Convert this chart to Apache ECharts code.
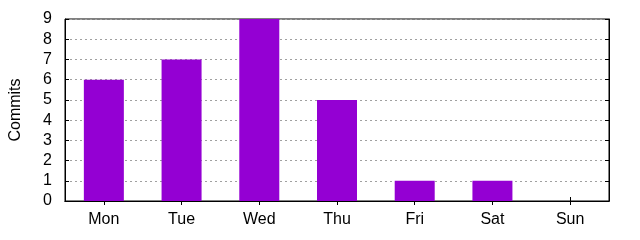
<!DOCTYPE html>
<html><head><meta charset="utf-8">
<script src="https://cdn.jsdelivr.net/npm/echarts@6/dist/echarts.min.js"></script>
<style>html,body{margin:0;padding:0;background:#fff}#c{width:640px;height:240px}</style>
</head><body><div id="c"></div>
<script>
const categories = ['Mon','Tue','Wed','Thu','Fri','Sat','Sun'];
const commits = [6, 7, 9, 5, 1, 1, 0];
const yTicks = [0,1,2,3,4,5,6,7,8,9];

const chart = echarts.init(document.getElementById('c'), null, {renderer:'canvas'});
const font = {fontFamily:'Liberation Sans, Arial, sans-serif', fontSize:16, color:'#000'};
chart.setOption({
  animation:false,
  grid:{left:64, right:31, top:19, bottom:39, show:true, borderColor:'#000', borderWidth:1, backgroundColor:'transparent'},
  xAxis:[{
    type:'category', data:categories, position:'bottom',
    axisLine:{show:true, lineStyle:{color:'#000', width:1}},
    axisTick:{show:true, inside:true, alignWithLabel:true, length:4, lineStyle:{color:'#000'}},
    axisLabel:Object.assign({margin:11}, font),
    splitLine:{show:false}
  },{
    type:'category', data:categories, position:'top',
    axisLine:{show:true, lineStyle:{color:'#000', width:1}},
    axisTick:{show:true, inside:true, alignWithLabel:true, length:4, lineStyle:{color:'#000'}},
    axisLabel:{show:false}, splitLine:{show:false}
  }],
  yAxis:[{
    type:'value', min:0, max:9, interval:1,
    name:'Commits', nameLocation:'middle', nameGap:41, nameRotate:90,
    nameTextStyle:font,
    axisLine:{show:true, lineStyle:{color:'#000', width:1}},
    axisTick:{show:true, inside:true, length:4, lineStyle:{color:'#000'}},
    axisLabel:Object.assign({margin:13, formatter:v=>yTicks.includes(v)?String(v):''}, font),
    splitLine:{show:true, lineStyle:{color:'#a0a0a0', type:[2,3], width:1}}
  },{
    type:'value', min:0, max:9, interval:1, position:'right',
    axisLine:{show:true, lineStyle:{color:'#000', width:1}},
    axisTick:{show:true, inside:true, length:4, lineStyle:{color:'#000'}},
    axisLabel:{show:false}, splitLine:{show:false}
  }],
  series:[{
    type:'bar', data:commits, barWidth:40, xAxisIndex:0, yAxisIndex:0,
    itemStyle:{color:'#9400D3'}
  }]
});
</script></body></html>
